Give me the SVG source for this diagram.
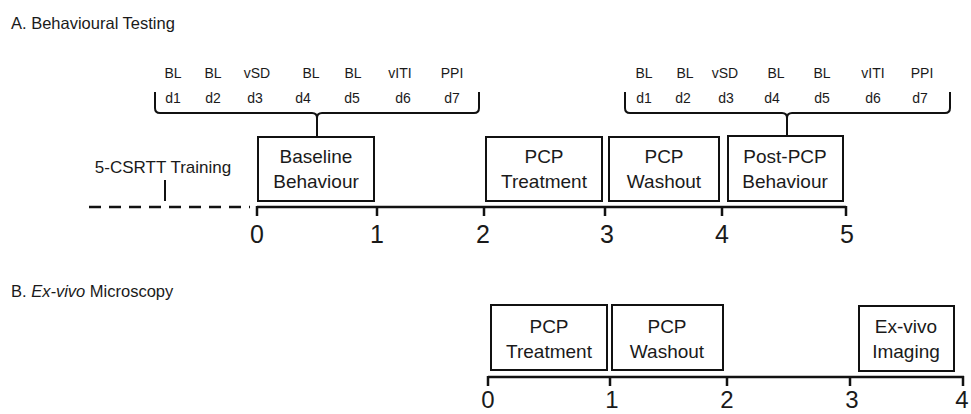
<svg xmlns="http://www.w3.org/2000/svg" width="971" height="414" viewBox="0 0 971 414">
<style>
text{font-family:"Liberation Sans",Arial,sans-serif;fill:#1a1a1a}
.title{font-size:16.5px}
.box rect{fill:#fff;stroke:#111;stroke-width:2}
.box text{font-size:19px;text-anchor:middle}
.lbl{font-size:14px;text-anchor:middle}
.num{font-size:25px;text-anchor:middle}
.numb{font-size:24px;text-anchor:middle}
.axis{stroke:#111;stroke-width:2.5;fill:none}
.brace{stroke:#111;stroke-width:2;fill:none}
</style>
<rect width="971" height="414" fill="#fff"/>

<text class="title" x="11" y="29">A. Behavioural Testing</text>
<text class="title" x="11" y="297">B. <tspan font-style="italic">Ex-vivo</tspan> Microscopy</text>

<g id="day-labels-A1">
<text class="lbl" x="173" y="78">BL</text>
<text class="lbl" x="213" y="78">BL</text>
<text class="lbl" x="257" y="78">vSD</text>
<text class="lbl" x="311" y="78">BL</text>
<text class="lbl" x="353" y="78">BL</text>
<text class="lbl" x="400" y="78">vITI</text>
<text class="lbl" x="452" y="78">PPI</text>
<text class="lbl" x="173" y="103">d1</text>
<text class="lbl" x="213" y="103">d2</text>
<text class="lbl" x="255" y="103">d3</text>
<text class="lbl" x="303" y="103">d4</text>
<text class="lbl" x="352" y="103">d5</text>
<text class="lbl" x="403" y="103">d6</text>
<text class="lbl" x="452" y="103">d7</text>
</g>
<g id="day-labels-A2">
<text class="lbl" x="644" y="78">BL</text>
<text class="lbl" x="685" y="78">BL</text>
<text class="lbl" x="725" y="78">vSD</text>
<text class="lbl" x="776" y="78">BL</text>
<text class="lbl" x="822" y="78">BL</text>
<text class="lbl" x="873" y="78">vITI</text>
<text class="lbl" x="922" y="78">PPI</text>
<text class="lbl" x="644" y="103">d1</text>
<text class="lbl" x="683" y="103">d2</text>
<text class="lbl" x="726" y="103">d3</text>
<text class="lbl" x="772" y="103">d4</text>
<text class="lbl" x="822" y="103">d5</text>
<text class="lbl" x="873" y="103">d6</text>
<text class="lbl" x="920" y="103">d7</text>
</g>

<g id="connectors">
<path class="brace" d="M155,92 L155,108 Q155,113 160,113 L312,113 Q317,113 317,118 L317,137 M317,118 Q317,113 322,113 L474,113 Q479,113 479,108 L479,92"/>
<path class="brace" d="M625,92 L625,108 Q625,113 630,113 L782,113 Q787,113 787,118 L787,136 M787,118 Q787,113 792,113 L945,113 Q950,113 950,108 L950,92"/>
<line class="brace" x1="165" y1="180" x2="165" y2="201"/>
</g>

<g id="training">
<text x="163" y="173" font-size="17" text-anchor="middle">5-CSRTT Training</text>
</g>

<g id="axis-A">
<line class="axis" x1="89" y1="207" x2="250" y2="207" stroke-dasharray="12 8" stroke-width="3"/>
<path class="axis" d="M257,207 L846,207 M257,206 V216 M377,206 V216 M484,206 V216 M605,206 V216 M722,206 V216 M846,206 V216"/>
<text class="num" x="257" y="243">0</text>
<text class="num" x="377" y="243">1</text>
<text class="num" x="483" y="243">2</text>
<text class="num" x="607" y="243">3</text>
<text class="num" x="722" y="243">4</text>
<text class="num" x="847" y="243">5</text>
</g>

<g id="baseline-behaviour" class="box">
<rect x="258" y="137" width="116" height="64"/>
<text x="316" y="163">Baseline</text>
<text x="316" y="188">Behaviour</text>
</g>
<g id="pcp-treatment-A" class="box">
<rect x="486" y="137" width="116" height="64"/>
<text x="544" y="163">PCP</text>
<text x="544" y="188">Treatment</text>
</g>
<g id="pcp-washout-A" class="box">
<rect x="609" y="137" width="110" height="64"/>
<text x="664" y="163">PCP</text>
<text x="664" y="188">Washout</text>
</g>
<g id="post-pcp-behaviour" class="box">
<rect x="728" y="136" width="115" height="65"/>
<text x="785" y="163">Post-PCP</text>
<text x="785" y="188">Behaviour</text>
</g>

<g id="axis-B">
<path class="axis" d="M488,377 L964,377 M488,376 V386 M610,376 V386 M727,376 V386 M850,376 V386 M963,376 V386"/>
<text class="numb" x="488" y="408">0</text>
<text class="numb" x="612" y="408">1</text>
<text class="numb" x="727" y="408">2</text>
<text class="numb" x="852" y="408">3</text>
<text class="numb" x="962" y="408">4</text>
</g>

<g id="pcp-treatment-B" class="box">
<rect x="491" y="305" width="116" height="65"/>
<text x="549" y="333">PCP</text>
<text x="549" y="358">Treatment</text>
</g>
<g id="pcp-washout-B" class="box">
<rect x="612" y="305" width="111" height="65"/>
<text x="667" y="333">PCP</text>
<text x="667" y="358">Washout</text>
</g>
<g id="ex-vivo-imaging" class="box">
<rect x="859" y="306" width="95" height="65"/>
<text x="906" y="333">Ex-vivo</text>
<text x="906" y="358">Imaging</text>
</g>
</svg>
